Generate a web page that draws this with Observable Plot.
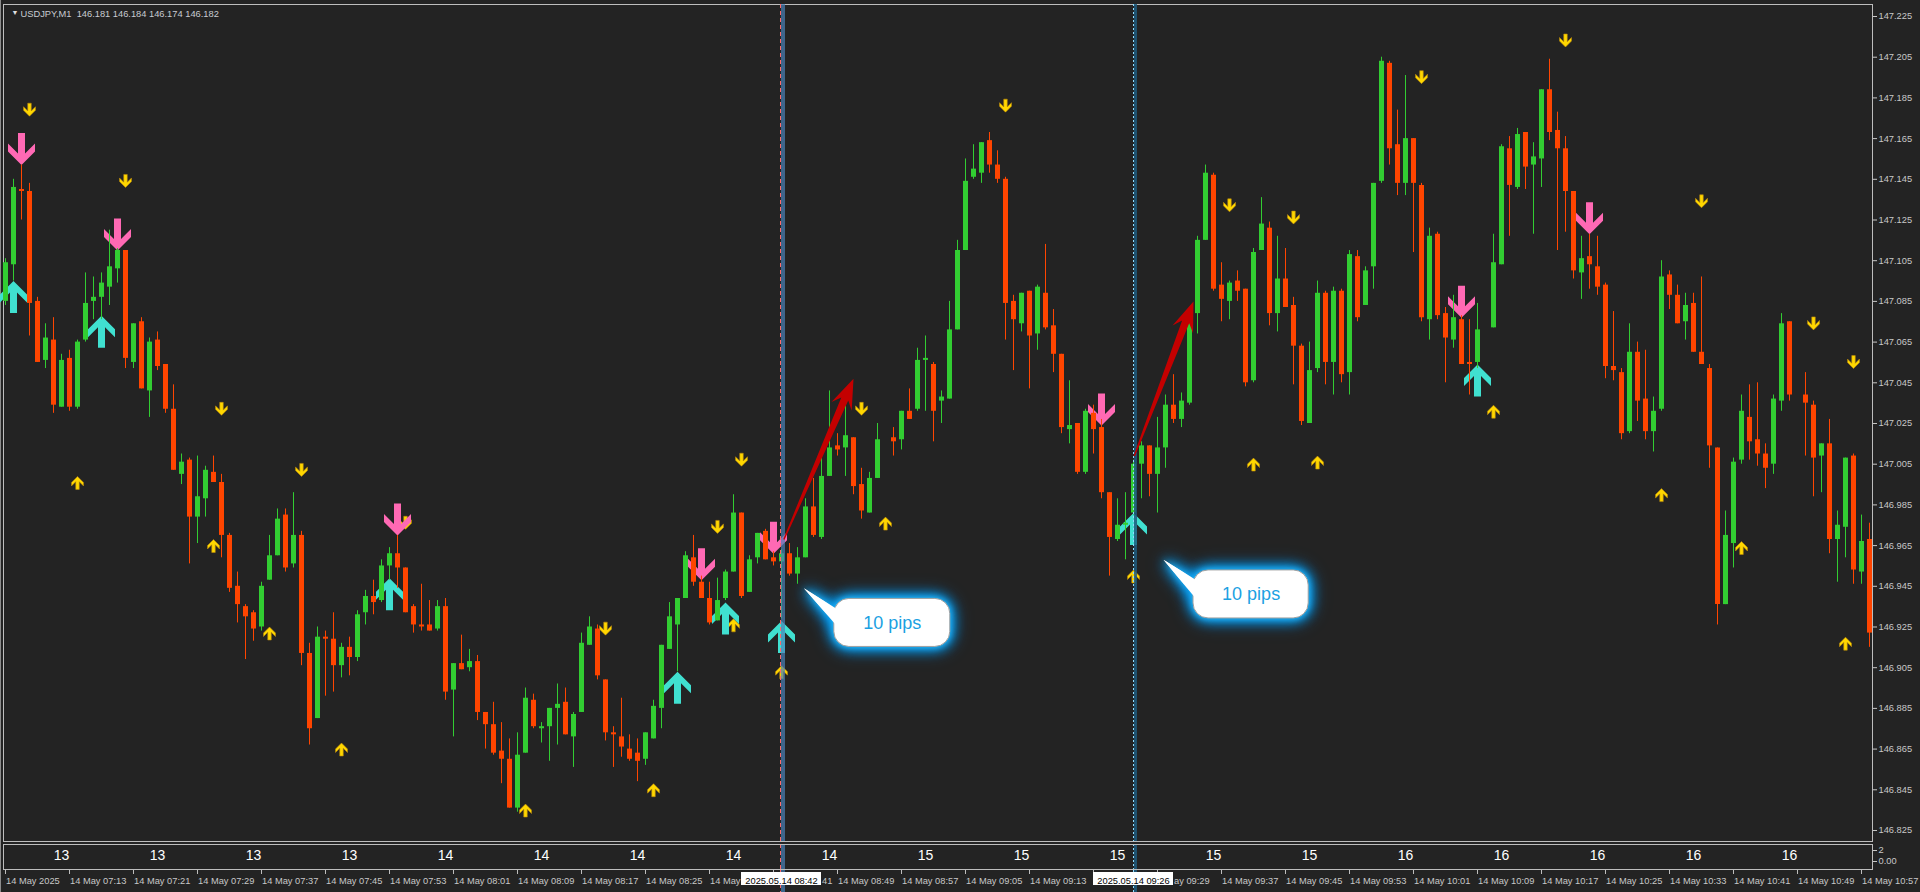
<!DOCTYPE html>
<html>
<head>
<meta charset="utf-8">
<script src="https://cdn.jsdelivr.net/npm/d3@7"></script>
<script src="https://cdn.jsdelivr.net/npm/@observablehq/plot@0.6"></script>
<style>
html, body { margin: 0; padding: 0; background: #232323; }
#chart { width: 1920px; height: 892px; overflow: hidden; position: relative; box-shadow: inset 1px 0 0 #8c8c8c; }
#chart svg { display: block; }
</style>
</head>
<body>
<div id="chart"></div>
<script>
// ---------------- DATA ----------------
const symbolName = "USDJPY,M1";
const lastQuote = [146.181, 146.184, 146.174, 146.182];

const opens = [147.085,147.103,147.140,147.139,147.085,147.056,147.066,147.033,147.057,147.033,
 147.066,147.085,147.087,147.092,147.101,147.110,147.055,147.075,147.041,147.066,
 147.054,147.032,147.000,147.007,146.979,146.988,147.001,146.996,146.970,146.945,
 146.935,146.932,146.925,146.948,146.960,146.980,146.956,146.970,146.912,146.880,
 146.920,146.919,146.906,146.915,146.910,146.932,146.940,146.938,146.955,146.961,
 146.954,146.935,146.926,146.926,146.924,146.935,146.894,146.907,146.905,146.908,
 146.883,146.877,146.864,146.860,146.836,146.863,146.889,146.875,146.876,146.885,
 146.888,146.871,146.883,146.916,146.924,146.899,146.873,146.871,146.865,146.863,
 146.860,146.870,146.885,146.914,146.926,146.939,146.959,146.947,146.939,146.928,
 146.939,146.952,146.981,146.942,146.959,146.972,146.959,146.957,146.961,146.951,
 146.959,146.984,146.969,146.999,147.014,147.013,147.018,146.995,146.981,146.998,
 null,147.018,147.017,147.031,147.032,147.056,147.054,147.036,147.037,147.071,
 147.110,147.146,147.148,147.164,147.152,147.145,147.085,147.074,147.090,147.069,
 147.089,147.073,147.059,147.022,147.025,147.001,147.030,147.023,146.991,146.968,
 146.975,146.981,147.005,147.014,147.000,147.013,147.034,147.027,147.035,147.079,
 147.115,147.147,147.093,147.085,147.095,147.091,147.046,147.110,147.121,147.079,
 147.096,147.083,147.063,147.025,147.052,147.089,147.055,147.090,147.050,147.107,
 147.083,147.102,147.144,147.202,147.162,147.143,147.165,147.142,147.076,147.118,
 147.079,147.066,147.076,147.055,147.055,null,147.072,147.103,147.160,147.141,
 147.168,147.152,147.155,147.189,147.169,147.160,147.139,147.099,147.107,147.102,
 147.093,147.053,147.050,147.021,147.060,147.037,147.021,147.032,147.098,147.088,
 147.075,147.084,147.060,147.052,147.013,146.936,146.966,147.007,147.028,147.017,
 147.010,147.005,147.036,147.075,null,147.039,147.034,147.009,147.015,146.968,
 146.974,147.009,146.952,146.968];

const highs = [147.106,147.145,147.152,147.143,147.087,147.074,147.077,147.059,147.061,147.066,
 147.099,147.097,147.099,147.120,147.111,147.110,147.074,147.077,147.067,147.070,
 147.054,147.044,147.010,147.008,147.009,147.004,147.009,147.000,146.971,146.952,
 146.936,146.933,146.947,146.970,146.983,146.983,146.991,146.972,146.917,146.925,
 146.923,146.932,146.917,146.920,146.933,146.943,146.948,146.958,146.964,146.970,
 146.954,146.936,146.946,146.938,146.938,146.939,146.907,146.921,146.914,146.911,
 146.883,146.888,146.878,146.870,146.873,146.895,146.892,146.878,146.885,146.897,
 146.895,146.883,146.922,146.930,146.926,146.899,146.876,146.890,146.872,146.870,
 146.873,146.889,146.916,146.937,146.939,146.962,146.970,146.950,146.947,146.949,
 146.953,146.990,146.981,146.960,146.971,146.973,146.962,146.963,146.966,146.964,
 146.988,146.998,147.010,147.041,147.020,147.036,147.018,147.003,147.001,147.025,
 null,147.023,147.031,147.042,147.062,147.068,147.055,147.041,147.085,147.115,
 147.155,147.162,147.163,147.168,147.159,147.146,147.088,147.089,147.090,147.093,
 147.113,147.081,147.059,147.046,147.025,147.032,147.034,147.027,146.991,146.988,
 146.991,147.007,147.016,147.014,147.028,147.039,147.049,147.040,147.082,147.117,
 147.152,147.148,147.104,147.095,147.100,147.091,147.111,147.136,147.124,147.117,
 147.111,147.087,147.064,147.065,147.095,147.090,147.092,147.091,147.110,147.110,
 147.102,147.143,147.205,147.203,147.179,147.196,147.165,147.143,147.121,147.119,
 147.082,147.088,147.078,147.076,147.084,null,147.118,147.162,147.166,147.170,
 147.168,147.163,147.189,147.204,147.178,147.166,147.139,147.117,147.118,147.117,
 147.094,147.080,147.052,147.074,147.065,147.061,147.038,147.105,147.100,147.093,
 147.089,147.089,147.097,147.054,147.013,146.982,147.008,147.039,147.044,147.045,
 147.015,147.039,147.079,147.075,null,147.050,147.036,147.015,147.027,146.982,
 147.008,147.010,146.980,146.976];

const lows = [147.083,147.095,147.125,147.068,147.055,147.052,147.030,147.033,147.031,147.032,
 147.065,147.076,147.076,147.083,147.094,147.052,147.052,147.042,147.028,147.051,
 147.030,147.002,146.995,146.956,146.966,146.979,146.996,146.959,146.942,146.927,
 146.909,146.918,146.923,146.948,146.960,146.952,146.954,146.906,146.867,146.880,
 146.891,146.893,146.900,146.901,146.908,146.926,146.931,146.937,146.948,146.944,
 146.932,146.922,146.923,146.923,146.923,146.889,146.871,146.904,146.903,146.879,
 146.865,146.862,146.848,146.836,146.834,146.863,146.875,146.868,146.859,146.867,
 146.872,146.856,146.883,146.916,146.899,146.869,146.856,146.861,146.859,146.849,
 146.857,146.870,146.875,146.914,146.903,146.939,146.945,146.939,146.926,146.928,
 146.938,146.952,146.939,146.942,146.956,146.958,146.955,146.929,146.950,146.946,
 146.959,146.969,146.968,146.999,147.009,146.999,146.990,146.978,146.981,146.998,
 null,147.009,147.012,147.027,147.031,147.031,147.016,147.025,147.037,147.071,
 147.110,147.145,147.143,147.148,147.143,147.066,147.051,147.070,147.042,147.061,
 147.071,147.050,147.020,147.015,147.000,147.000,147.010,146.988,146.950,146.967,
 146.958,146.980,146.988,146.989,146.981,147.003,147.025,147.023,147.034,147.069,
 147.115,147.090,147.075,147.076,147.085,147.043,147.045,147.110,147.073,147.070,
 147.082,147.044,147.024,147.025,147.050,147.044,147.039,147.045,147.039,147.075,
 147.083,147.091,147.143,147.152,147.137,147.137,147.109,147.075,147.066,147.076,
 147.045,147.062,147.054,147.039,147.052,null,147.072,147.103,147.117,147.140,
 147.140,147.118,147.141,147.164,147.110,147.119,147.096,147.086,147.091,147.088,
 147.047,147.046,147.017,147.020,147.026,147.017,147.011,147.031,147.081,147.074,
 147.066,147.060,147.054,147.003,146.926,146.936,146.954,147.005,147.007,147.004,
 146.993,147.000,147.031,147.036,null,147.009,146.989,146.991,146.961,146.947,
 146.959,146.946,146.946,146.915];

const closes = [147.104,147.141,147.139,147.084,147.055,147.067,147.034,147.056,147.033,147.065,
 147.084,147.087,147.094,147.102,147.110,147.057,147.074,147.042,147.065,147.053,
 147.032,147.002,147.006,146.979,146.989,147.002,146.996,146.970,146.944,146.936,
 146.930,146.924,146.945,146.960,146.978,146.954,146.970,146.912,146.875,146.920,
 146.919,146.906,146.915,146.910,146.931,146.940,146.937,146.955,146.961,146.954,
 146.932,146.926,146.925,146.923,146.935,146.893,146.907,146.904,146.908,146.883,
 146.877,146.863,146.860,146.836,146.862,146.890,146.876,146.876,146.885,146.887,
 146.872,146.882,146.917,146.925,146.901,146.873,146.872,146.866,146.860,146.859,
 146.873,146.886,146.916,146.930,146.939,146.960,146.947,146.939,146.927,146.938,
 146.952,146.981,146.940,146.958,146.971,146.958,146.957,146.961,146.951,146.959,
 146.984,146.970,146.999,147.013,147.012,147.019,146.994,146.982,146.998,147.017,
 null,147.016,147.031,147.027,147.056,147.057,147.031,147.038,147.071,147.110,
 147.144,147.150,147.163,147.152,147.145,147.084,147.076,147.089,147.068,147.092,
 147.072,147.059,147.023,147.024,147.001,147.031,147.022,146.991,146.969,146.975,
 146.976,147.005,147.014,147.000,147.013,147.034,147.027,147.036,147.079,147.115,
 147.148,147.091,147.086,147.094,147.090,147.045,147.109,147.123,147.079,147.096,
 147.082,147.063,147.026,147.051,147.089,147.055,147.090,147.049,147.108,147.077,
 147.100,147.143,147.203,147.160,147.143,147.165,147.143,147.077,147.117,147.078,
 147.067,147.077,147.054,147.054,147.071,null,147.104,147.161,147.142,147.167,
 147.151,147.156,147.189,147.168,147.160,147.139,147.100,147.106,147.103,147.092,
 147.053,147.051,147.020,147.060,147.036,147.021,147.031,147.097,147.088,147.074,
 147.083,147.060,147.054,147.014,146.936,146.970,147.006,147.031,147.016,147.010,
 147.003,147.037,147.074,147.039,null,147.035,147.008,147.015,146.968,146.975,
 147.008,146.953,146.967,146.922];

// signal arrows: bar index and price of the arrow tip
const sellIdx   = [2, 14, 49, 87, 96, 137, 182, 198];
const sellPrice = [147.152, 147.110, 146.970, 146.948, 146.961, 147.024, 147.077, 147.118];
const buyIdx    = [1, 12, 48, 84, 90, 97, 141, 184];
const buyPrice  = [147.095, 147.078, 146.949, 146.903, 146.937, 146.928, 146.981, 147.054];
const dnIdx     = [3, 15, 27, 37, 50, 75, 89, 92, 107, 125, 153, 161, 177, 195, 212, 226, 231];
const dnPrice   = [147.176, 147.141, 147.029, 146.999, 146.973, 146.921, 146.971, 147.004, 147.029, 147.178, 147.129, 147.123, 147.192, 147.210, 147.131, 147.071, 147.052];
const upIdx     = [9, 26, 33, 42, 65, 81, 91, 97, 110, 141, 156, 164, 186, 207, 217, 230];
const upPrice   = [146.999, 146.968, 146.925, 146.868, 146.838, 146.848, 146.929, 146.906, 146.979, 146.953, 147.008, 147.009, 147.034, 146.993, 146.967, 146.920];

// drawn trend arrows (start bar/price -> end bar/price)
const redFromIdx   = [97.3, 141.1];
const redFromPrice = [146.968, 147.009];
const redToIdx     = [106.0, 148.5];
const redToPrice   = [147.047, 147.085];

// "10 pips" callouts
const calloutLabel      = ["10 pips", "10 pips"];
const calloutLeft       = [103.6, 148.5];
const calloutRight      = [118.1, 162.9];
const calloutTop        = [146.9388, 146.9528];
const calloutBottom     = [146.9152, 146.9292];
const calloutTipIdx     = [99.8, 144.75];
const calloutTipPrice   = [146.944, 146.958];
const calloutTailTop    = [146.9331, 146.9474];
const calloutTailBottom = [146.9243, 146.9375];

// vertical markers
const markerIdx    = [97, 141];
const markerLabels = ["2025.05.14 08:42", "2025.05.14 09:26"];

// axis ticks and labels
const priceTicks = [147.225, 147.205, 147.185, 147.165, 147.145, 147.125, 147.105, 147.085, 147.065, 147.045, 147.025,
                    147.005, 146.985, 146.965, 146.945, 146.925, 146.905, 146.885, 146.865, 146.845, 146.825];
const timeIdx = [0, 8, 16, 24, 32, 40, 48, 56, 64, 72, 80, 88, 96, 104, 112, 120, 128, 136, 144, 152,
                 160, 168, 176, 184, 192, 200, 208, 216, 224, 232];
// visible time-label text (parts hidden behind the two marker date boxes are left out, as in the chart)
const timeLabelIdx = [0, 8, 16, 24, 32, 40, 48, 56, 64, 72, 80, 88, 102, 104, 112, 120, 128, 146, 152,
                      160, 168, 176, 184, 192, 200, 208, 216, 224, 232];
const timeLabels = ["14 May 2025", "14 May 07:13", "14 May 07:21", "14 May 07:29", "14 May 07:37", "14 May 07:45",
  "14 May 07:53", "14 May 08:01", "14 May 08:09", "14 May 08:17", "14 May 08:25", "14 May", "41",
  "14 May 08:49", "14 May 08:57", "14 May 09:05", "14 May 09:13", "ay 09:29", "14 May 09:37",
  "14 May 09:45", "14 May 09:53", "14 May 10:01", "14 May 10:09", "14 May 10:17", "14 May 10:25", "14 May 10:33",
  "14 May 10:41", "14 May 10:49", "14 May 10:57"];
const subIdx  = [7, 19, 31, 43, 55, 67, 79, 91, 103, 115, 127, 139, 151, 163, 175, 187, 199, 211, 223];
const subText = ["13","13","13","13","14","14","14","14","14","15","15","15","15","15","16","16","16","16","16"];
const subTicks = [2, 0];
const subTickText = ["2", "0.00"];

// ---------------- SETUP ----------------
const font = "'Liberation Sans', Arial, Helvetica, sans-serif";
const narrowFont = "'Liberation Sans Narrow', 'Arial Narrow', 'Liberation Sans', Arial, sans-serif";
const W = 1920, mainH = 843, subH = 27, timeH = 22, ML = 3, MR = 48, MT = 4, MB = 2;
const xDomain = [-0.25, 233.375];
const yDomain = [146.81959, 147.2309];
const subDomain = [-1.45, 3.09];
const upCol = "#32cd32", dnCol = "#ff4500";
const textCol = "#c8c8c8", frameCol = "#bdbdbd";
const plotStyle = {background: "transparent", color: textCol, fontFamily: font, overflow: "visible"};

const candles = [];
for (let i = 0; i < opens.length; i++) {
  if (opens[i] == null) continue;
  candles.push({i, o: opens[i], h: highs[i], l: lows[i], c: closes[i]});
}
const bull = candles.filter(d => d.c >= d.o);
const bear = candles.filter(d => d.c < d.o);

const zip = (a, b) => a.map((v, j) => ({i: v, p: b[j]}));

function poly(pts) {
  return {draw(ctx) {
    ctx.moveTo(pts[0][0], pts[0][1]);
    for (let j = 1; j < pts.length; j++) ctx.lineTo(pts[j][0], pts[j][1]);
    ctx.closePath();
  }};
}
const bigDownPts = [[0,0],[-13.5,-13.5],[-13.5,-21.5],[-3.5,-11.5],[-3.5,-32],[3.5,-32],[3.5,-11.5],[13.5,-21.5],[13.5,-13.5]];
const bigUpPts = bigDownPts.map(([a, b]) => [a, -b]);
const smDownPts = [[0,0],[-6,-6],[-6,-9.5],[-1.75,-5.25],[-1.75,-13],[1.75,-13],[1.75,-5.25],[6,-9.5],[6,-6]];
const smUpPts = smDownPts.map(([a, b]) => [a, -b]);

const fatArrow = {draw(ctx, l) {
  ctx.moveTo(-0.7, 0);
  ctx.lineTo(-3.8, -(l - 22));
  ctx.lineTo(-11, -(l - 30));
  ctx.lineTo(0, -l);
  ctx.lineTo(11, -(l - 30));
  ctx.lineTo(3.8, -(l - 22));
  ctx.lineTo(0.7, 0);
  ctx.closePath();
}};

// replica scales only to measure the pixel length / angle of the drawn trend arrows
const xs = d3.scaleLinear(xDomain, [ML, W - MR]);
const ys = d3.scaleLinear(yDomain, [mainH - MB, MT]);
const redArrowMarks = redFromIdx.map((_, j) => {
  const dxp = xs(redToIdx[j]) - xs(redFromIdx[j]);
  const dyp = ys(redToPrice[j]) - ys(redFromPrice[j]);
  const len = Math.hypot(dxp, dyp);
  const ang = Math.atan2(dxp, -dyp) * 180 / Math.PI;
  return Plot.vector([{i: redFromIdx[j], p: redFromPrice[j]}], {
    x: "i", y: "p", length: len, rotate: ang, anchor: "start", shape: fatArrow,
    fill: "#c40000", stroke: "none"
  });
});

function vlineMarks() {
  return [
    Plot.ruleX([markerIdx[0]], {x: d => d, stroke: "#4a82b8", strokeOpacity: 0.7, strokeWidth: 4, dx: 1.5}),
    Plot.ruleX([markerIdx[0]], {x: d => d, stroke: "#ff6a6a", strokeDasharray: "4,3", dx: -1}),
    Plot.ruleX([markerIdx[1]], {x: d => d, stroke: "#1f5a7c", strokeOpacity: 0.85, strokeWidth: 3, dx: 2}),
    Plot.ruleX([markerIdx[1]], {x: d => d, stroke: "#8fdcff", strokeDasharray: "2,2"})
  ];
}

const callouts = calloutLabel.map((label, j) => ({label, k1: calloutLeft[j], k2: calloutRight[j], top: calloutTop[j], bot: calloutBottom[j]}));
const tails = calloutLabel.flatMap((_, j) => [
  {j, k: calloutTipIdx[j], p: calloutTipPrice[j]},
  {j, k: calloutLeft[j] + 0.6, p: calloutTailTop[j]},
  {j, k: calloutLeft[j] + 0.6, p: calloutTailBottom[j]}
]);
const glow = "drop-shadow(0 0 3px #30c0ff) drop-shadow(0 0 6px #08a0f0) drop-shadow(0 0 7px #0088dd)";

const headerText = `${symbolName}\u00a0\u00a0${lastQuote.map(v => v.toFixed(3)).join(" ")}`;

// ---------------- MAIN PANEL ----------------
const main = Plot.plot({
  width: W, height: mainH,
  marginTop: MT, marginBottom: MB, marginLeft: ML, marginRight: MR,
  x: {domain: xDomain, axis: null},
  y: {domain: yDomain, axis: null},
  style: plotStyle,
  marks: [
    Plot.frame({stroke: frameCol}),
    Plot.axisY({anchor: "right", ticks: priceTicks, tickFormat: d => d.toFixed(3), tickSize: 4, tickPadding: 2, fontSize: 9.3}),
    Plot.text(["\u25BC"], {frameAnchor: "top-left", dx: 8, dy: 6, fontSize: 7, fill: "#e0e0e0"}),
    Plot.text([headerText], {frameAnchor: "top-left", dx: 17, dy: 5.5, textAnchor: "start", fontSize: 9.3, fill: "#c8ccd2"}),
    // indicator arrows (drawn beneath the candles)
    Plot.dot(zip(dnIdx, dnPrice), {x: "i", y: "p", symbol: poly(smDownPts), fill: "#ffd700", stroke: "#b8860b", strokeWidth: 0.6}),
    Plot.dot(zip(upIdx, upPrice), {x: "i", y: "p", symbol: poly(smUpPts), fill: "#ffd700", stroke: "#b8860b", strokeWidth: 0.6}),
    Plot.dot(zip(sellIdx, sellPrice), {x: "i", y: "p", symbol: poly(bigDownPts), fill: "#ff69b4", stroke: "none"}),
    Plot.dot(zip(buyIdx, buyPrice), {x: "i", y: "p", symbol: poly(bigUpPts), fill: "#40e0d0", stroke: "none"}),
    // candles
    Plot.ruleX(bull, {x: "i", y1: "l", y2: "h", stroke: upCol}),
    Plot.ruleX(bear, {x: "i", y1: "l", y2: "h", stroke: dnCol}),
    Plot.ruleX(bull, {x: "i", y1: "o", y2: "c", stroke: upCol, strokeWidth: 5}),
    Plot.ruleX(bear, {x: "i", y1: "o", y2: "c", stroke: dnCol, strokeWidth: 5}),
    ...vlineMarks(),
    ...redArrowMarks,
    Plot.line(tails, {x: "k", y: "p", z: "j", fill: "white", stroke: "none", imageFilter: glow}),
    Plot.rect(callouts, {x1: "k1", x2: "k2", y1: "bot", y2: "top", rx: 15, fill: "white", stroke: "#a0a0a0", imageFilter: glow}),
    Plot.line(tails, {x: "k", y: "p", z: "j", fill: "white", stroke: "none"}),
    Plot.text(callouts, {x: d => (d.k1 + d.k2) / 2, y: d => (d.top + d.bot) / 2, text: "label", fill: "#1ba1e2", fontSize: 18, fontFamily: font})
  ]
});

// ---------------- SUB WINDOW ----------------
const sub = Plot.plot({
  width: W, height: subH,
  marginTop: 1, marginBottom: 1, marginLeft: ML, marginRight: MR,
  x: {domain: xDomain, axis: null},
  y: {domain: subDomain, axis: null},
  style: plotStyle,
  marks: [
    ...vlineMarks(),
    Plot.frame({stroke: frameCol}),
    Plot.text(subIdx, {x: d => d, text: (d, i) => subText[i], frameAnchor: "top", dy: 6, fill: "#ffffff", fontSize: 14, fontFamily: narrowFont}),
    Plot.axisY({anchor: "right", ticks: subTicks, tickFormat: d => subTickText[subTicks.indexOf(d)], tickSize: 4, tickPadding: 2, fontSize: 9.3})
  ]
});

// ---------------- TIME AXIS ----------------
const timeAxis = Plot.plot({
  width: W, height: timeH,
  marginTop: 0, marginBottom: 0, marginLeft: ML, marginRight: MR,
  x: {domain: xDomain, axis: null},
  style: plotStyle,
  marks: [
    ...vlineMarks(),
    Plot.tickX(timeIdx, {x: d => d, insetBottom: 18, stroke: frameCol}),
    Plot.text(timeLabelIdx, {x: d => d, text: (d, i) => timeLabels[i], frameAnchor: "top", dy: 6.5, dx: 0.5, textAnchor: "start", fontSize: 9.3, fill: textCol}),
    Plot.rect(markerIdx, {x1: d => d - 5, x2: d => d + 5, insetTop: 2, insetBottom: 7, fill: "#ffffff"}),
    Plot.text(markerIdx, {x: d => d, text: (d, i) => markerLabels[i], frameAnchor: "top", dy: 6.5, fill: "#000000", fontSize: 9.3})
  ]
});

const host = document.getElementById("chart");
host.append(main, sub, timeAxis);
</script>
</body>
</html>
